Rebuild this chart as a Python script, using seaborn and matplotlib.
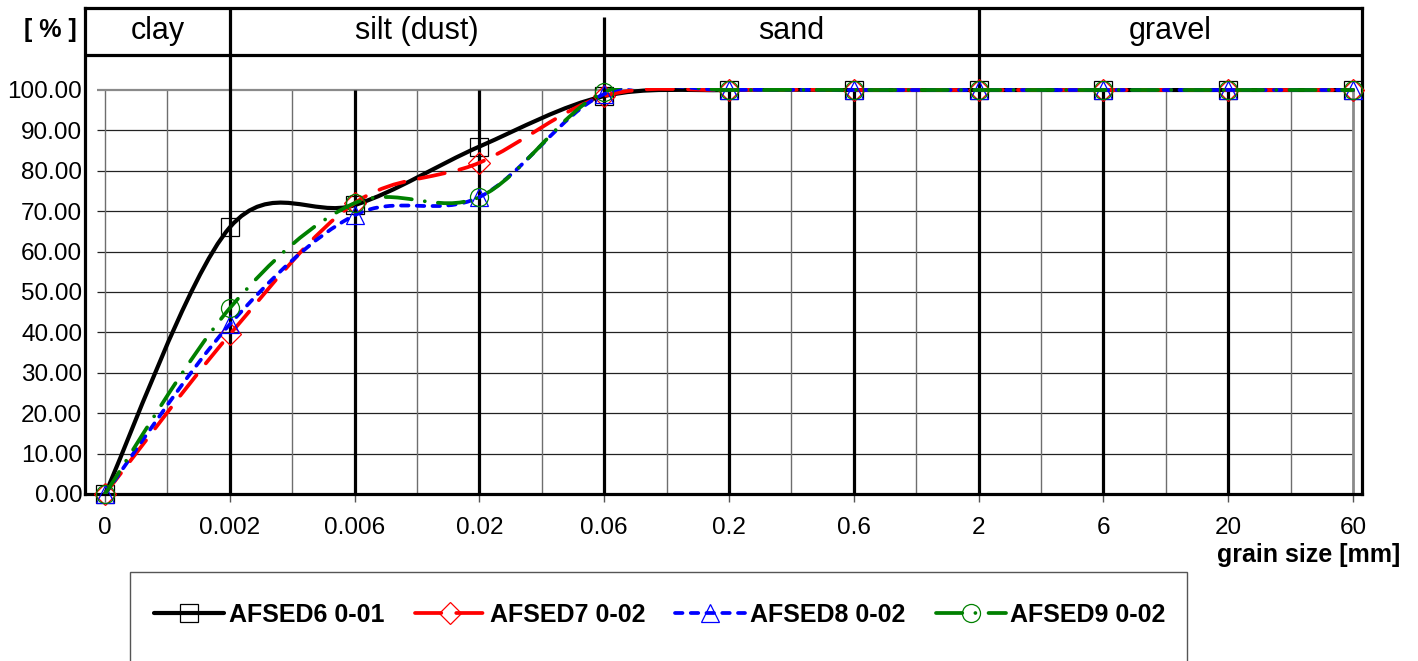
import numpy as np
import pandas as pd
import matplotlib
matplotlib.use("Agg")
import matplotlib.pyplot as plt
from matplotlib.path import Path
from matplotlib.patches import PathPatch, Rectangle
from matplotlib.lines import Line2D
import seaborn as sns

# ---- data -------------------------------------------------------------
grain_labels = ["0", "0.002", "0.006", "0.02", "0.06", "0.2", "0.6", "2", "6", "20", "60"]
afsed6 = [0.0, 66.0, 71.5, 86.0, 98.5, 100.0, 100.0, 100.0, 100.0, 100.0, 100.0]
afsed7 = [0.0, 39.5, 72.0, 82.0, 98.5, 100.0, 100.0, 100.0, 100.0, 100.0, 100.0]
afsed8 = [0.0, 42.0, 69.0, 73.5, 99.0, 100.0, 100.0, 100.0, 100.0, 100.0, 100.0]
afsed9 = [0.0, 46.0, 72.0, 73.5, 99.5, 100.0, 100.0, 100.0, 100.0, 100.0, 100.0]
series_names = ["AFSED6 0-01", "AFSED7 0-02", "AFSED8 0-02", "AFSED9 0-02"]
fraction_names = ["clay", "silt (dust)", "sand", "gravel"]
fraction_limits = ["0.002", "0.06", "2"]
y_ticks = [0, 10, 20, 30, 40, 50, 60, 70, 80, 90, 100]

# ---- styling ----------------------------------------------------------
sns.set_theme(style="white")
plt.rcParams["font.family"] = ["Liberation Sans", "DejaVu Sans"]
for key in ("text.color", "axes.labelcolor", "xtick.color", "ytick.color"):
    plt.rcParams[key] = "black"

W, H = 1418, 661
fig = plt.figure(figsize=(W / 100, H / 100), dpi=100)

ax_left, ax_right, ax_top, ax_bottom = 85, 1362, 8, 494
ax = fig.add_axes([ax_left / W, 1 - ax_bottom / H,
                   (ax_right - ax_left) / W, (ax_bottom - ax_top) / H])

step = 124.8
x_lo = -(105 - ax_left) / step
x_hi = (ax_right - 105) / step
px_per_pct = (ax_bottom - 90) / 100.0
y_hi = (ax_bottom - ax_top) / px_per_pct
header_y = (ax_bottom - 55) / px_per_pct
ax.set_xlim(x_lo, x_hi)
ax.set_ylim(0, y_hi)

positions = np.arange(len(grain_labels))
n_pos = len(grain_labels)

# ---- grid -------------------------------------------------------------
for v in y_ticks[:-1]:
    ax.plot([-0.065, n_pos - 1], [v, v], color="#222222", lw=0.9, zorder=1, solid_capstyle="butt")
ax.plot([-0.065, n_pos - 1], [100, 100], color="#8a8a8a", lw=1.6, zorder=1.2, solid_capstyle="butt")
for m in np.arange(0.5, n_pos - 1, 1.0):
    ax.plot([m, m], [0, 100], color="#6e6e6e", lw=1.0, zorder=1, solid_capstyle="butt")
ax.plot([0, 0], [0, 100], color="#6e6e6e", lw=1.0, zorder=1.1)
ax.plot([n_pos - 1, n_pos - 1], [0, 100], color="#8a8a8a", lw=2.0, zorder=1.1)

limit_pos = [grain_labels.index(s) for s in fraction_limits]
for p in positions[1:-1]:
    top = 100
    if p in limit_pos:
        top = y_hi if p != grain_labels.index("0.06") else (ax_bottom - 17) / px_per_pct
    ax.plot([p, p], [0, top], color="black", lw=2.3, zorder=2, solid_capstyle="butt", clip_on=False)

# header band
ax.plot([x_lo, x_hi], [header_y, header_y], color="black", lw=2.3, zorder=2)
edges = [x_lo] + limit_pos + [x_hi]
for name, a, b in zip(fraction_names, edges[:-1], edges[1:]):
    ax.text((a + b) / 2, (ax_bottom - 31) / px_per_pct, name, ha="center", va="center",
            fontsize=22, color="black")

for s in ax.spines.values():
    s.set_visible(True)
    s.set_color("black")
    s.set_linewidth(2.3)

# ---- smoothed curves + markers ----------------------------------------
def smooth_path(xs, ys):
    pts = np.column_stack([xs, ys]).astype(float)
    n = len(pts)
    verts = [pts[0]]
    codes = [Path.MOVETO]
    for i in range(n - 1):
        p_prev = pts[i - 1] if i > 0 else pts[i]
        p_next = pts[i + 2] if i + 2 < n else pts[i + 1]
        c1 = pts[i] + (pts[i + 1] - p_prev) / 6.0
        c2 = pts[i + 1] - (p_next - pts[i]) / 6.0
        verts += [c1, c2, pts[i + 1]]
        codes += [Path.CURVE4] * 3
    return Path(verts, codes)

values = [afsed6, afsed7, afsed8, afsed9]
colors = ["black", "#ff0000", "#0000ff", "#008000"]
markers = ["s", "D", "^", "o"]
msizes = [13, 11, 13, 13]
widths = [3.0, 2.7, 2.7, 2.7]
dash_styles = ["-", (0, (7, 4)), (0, (2.0, 2.2)), (0, (7, 3.5, 0.01, 3.5))]

# the plotting area stops at 100 %; curves are clipped there
plot_area = Rectangle((x_lo, 0), x_hi - x_lo, 100.45, transform=ax.transData,
                      fill=False, visible=False)
ax.add_patch(plot_area)

frames = []
for name, vals in zip(series_names, values):
    frames.append(pd.DataFrame({"pos": positions, "value": vals, "series": name}))
df = pd.concat(frames, ignore_index=True)

for i, name in enumerate(series_names):
    sub = df[df["series"] == name]
    patch = PathPatch(smooth_path(sub["pos"].values, sub["value"].values),
                      fill=False, edgecolor=colors[i], lw=widths[i], linestyle=dash_styles[i],
                      capstyle="round", joinstyle="round", zorder=3 + 0.2 * i)
    ax.add_patch(patch)
    patch.set_clip_path(plot_area)
    sns.lineplot(data=sub, x="pos", y="value", ax=ax, color=colors[i], linestyle="",
                 marker=markers[i], markersize=msizes[i], markerfacecolor="none",
                 markeredgecolor=colors[i], markeredgewidth=0.9,
                 zorder=3.1 + 0.2 * i, clip_on=False, legend=False)

# ---- axes ticks -------------------------------------------------------
ax.set_xticks(positions)
ax.set_xticklabels(grain_labels, fontsize=17.5)
ax.set_yticks(y_ticks)
ax.set_yticklabels([f"{v:.2f}" for v in y_ticks], fontsize=17.5)
ax.tick_params(axis="x", direction="out", length=6, width=1, color="#555555", pad=10.5, bottom=True)
ax.tick_params(axis="y", length=0, pad=2)
ax.set_xlabel("")
ax.set_ylabel("")
ax.grid(False)

fig.text(50 / W, 1 - 30 / H, "[ % ]", ha="center", va="center", fontsize=18, fontweight="bold")
fig.text(1400 / W, 1 - 555 / H, "grain size [mm]", ha="right", va="center",
         fontsize=18, fontweight="bold")

# ---- legend -----------------------------------------------------------
handles = [Line2D([], [], color=colors[i], lw=widths[i], linestyle=dash_styles[i],
                  dash_capstyle="round", marker=markers[i], markersize=msizes[i],
                  markerfacecolor="none", markeredgecolor=colors[i], markeredgewidth=0.9)
           for i in range(len(series_names))]
fig.add_artist(Rectangle((130 / W, -0.05), (1187 - 130) / W, (1 - 572 / H) + 0.05,
                         transform=fig.transFigure, fill=False, edgecolor="#555555", lw=1.0))
fig.legend(handles, series_names, loc="center", bbox_to_anchor=(660 / W, 1 - 615 / H),
           ncol=4, frameon=False, handlelength=2.8, handletextpad=0.2, columnspacing=1.2,
           prop={"size": 18, "weight": "bold"})

fig.savefig("out.png", dpi=100)
